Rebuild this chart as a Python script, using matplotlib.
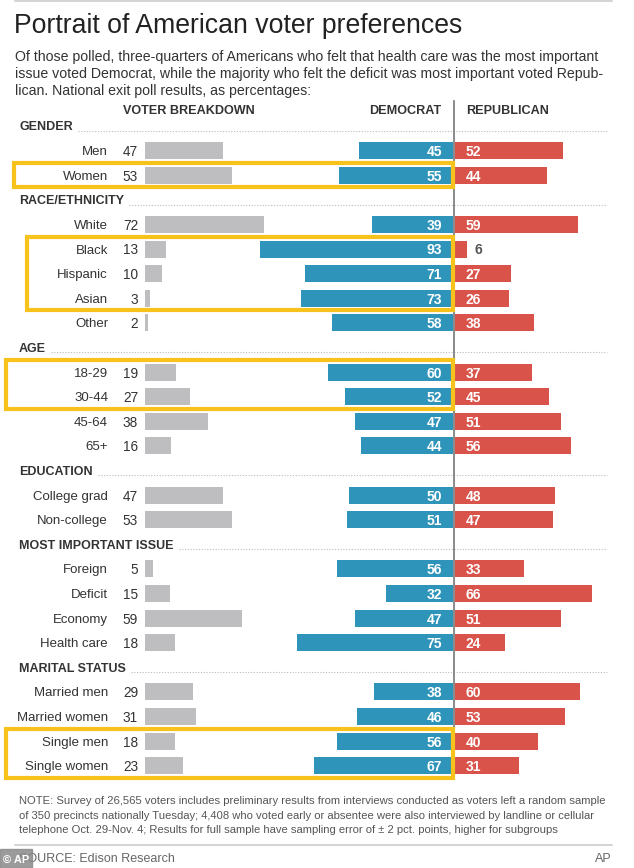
import matplotlib
matplotlib.use('Agg')
import matplotlib.pyplot as plt
from matplotlib import font_manager
from matplotlib.patches import Rectangle

# Dados: sondagem à saída das urnas (percentagens)
secoes = ['GENDER', 'RACE/ETHNICITY', 'AGE', 'EDUCATION', 'MOST IMPORTANT ISSUE', 'MARITAL STATUS']
grupos = [
    ['Men', 'Women'],
    ['White', 'Black', 'Hispanic', 'Asian', 'Other'],
    ['18-29', '30-44', '45-64', '65+'],
    ['College grad', 'Non-college'],
    ['Foreign', 'Deficit', 'Economy', 'Health care'],
    ['Married men', 'Married women', 'Single men', 'Single women'],
]
breakdown = [[47, 53], [72, 13, 10, 3, 2], [19, 27, 38, 16], [47, 53], [5, 15, 59, 18], [29, 31, 18, 23]]
democrat = [[45, 55], [39, 93, 71, 73, 58], [60, 52, 47, 44], [50, 51], [56, 32, 47, 75], [38, 46, 56, 67]]
republican = [[52, 44], [59, 6, 27, 26, 38], [37, 45, 51, 56], [48, 47], [33, 66, 51, 24], [60, 53, 40, 31]]
destaques = [('Women', 'Women', 14), ('Black', 'Asian', 27), ('18-29', '30-44', 6), ('Single men', 'Single women', 6)]

titulo = 'Portrait of American voter preferences'
subtitulo = ['Of those polled, three-quarters of Americans who felt that health care was the most important',
             'issue voted Democrat, while the majority who felt the deficit was most important voted Repub-',
             'lican. National exit poll results, as percentages:']
nota = ['NOTE: Survey of 26,565 voters includes preliminary results from interviews conducted as voters left a random sample',
        'of 350 precincts nationally Tuesday; 4,408 who voted early or absentee were also interviewed by landline or cellular',
        'telephone Oct. 29-Nov. 4; Results for full sample have sampling error of \u00b1 2 pct. points, higher for subgroups']

# Fonte: preferir uma versão estreita, se existir
nomes = {f.name for f in font_manager.fontManager.ttflist}
fonte = 'Liberation Sans Narrow' if 'Liberation Sans Narrow' in nomes else 'Liberation Sans'
plt.rcParams['font.family'] = [fonte, 'DejaVu Sans']

AZUL = '#2F94BA'
VERMELHO = '#D9534A'
CINZA = '#BEBEC1'
AMARELO = '#F7C21B'
TEXTO = '#333333'

fig = plt.figure(figsize=(6.34, 8.68), dpi=100)
ax = fig.add_axes([0, 0, 1, 1])
ax.set_xlim(0, 634)
ax.set_ylim(868, 0)
ax.axis('off')
rend = fig.canvas.get_renderer()


def ajustar(t, largura):
    # encolhe o texto até ocupar a largura pedida (em px)
    w = t.get_window_extent(renderer=rend).width
    t.set_fontsize(t.get_fontsize() * largura / w)
    return t.get_fontsize()


# escalas (px por ponto percentual)
x_cinza, esc_cinza = 145, 1.65
x_centro, esc_partido = 454, 2.08
altura = 17
VA = 'center_baseline'

ax.plot([15, 612], [1, 1], color='#cccccc', lw=1.2)
t = ax.text(14, 26, titulo, fontsize=27, color='#222222', va='center')
ajustar(t, 449)
for i, linha in enumerate(subtitulo):
    t = ax.text(15, 56 + i * 16.5, linha, fontsize=11, color=TEXTO, va=VA)
    if i == 0:
        fs_sub = ajustar(t, 579)
    else:
        t.set_fontsize(fs_sub)

ax.text(123, 110, 'VOTER BREAKDOWN', fontsize=9.1, fontweight='bold', color=TEXTO, va=VA)
ax.text(441, 110, 'DEMOCRAT', fontsize=9.1, fontweight='bold', color=TEXTO, va=VA, ha='right')
ax.text(466, 110, 'REPUBLICAN', fontsize=9.1, fontweight='bold', color=TEXTO, va=VA)

y = 126
passo = 24.6
pos_linha = {}
cabecalhos = []
for sec, nomes_g, bd, dem, rep in zip(secoes, grupos, breakdown, democrat, republican):
    t = ax.text(19, y, sec, fontsize=9, fontweight='bold', color=TEXTO, va=VA)
    cabecalhos.append((t, y))
    y += passo
    for nome, b, d, r in zip(nomes_g, bd, dem, rep):
        pos_linha[nome] = y
        ax.text(108, y, nome, fontsize=9.5, color=TEXTO, va=VA, ha='right')
        ax.text(138, y, str(b), fontsize=9.8, color=TEXTO, va=VA, ha='right')
        ax.barh(y, b * esc_cinza, left=x_cinza, height=altura, color=CINZA)
        ax.barh(y, -d * esc_partido, left=x_centro - 1, height=altura, color=AZUL)
        ax.barh(y, r * esc_partido, left=x_centro + 1, height=altura, color=VERMELHO)
        ax.text(x_centro - 12, y, str(d), fontsize=10, fontweight='bold', color='white', va=VA, ha='right')
        if r < 10:
            ax.text(x_centro + r * esc_partido + 8, y, str(r), fontsize=10, fontweight='bold',
                    color='#555555', va=VA)
        else:
            ax.text(x_centro + 12, y, str(r), fontsize=10, fontweight='bold', color='white', va=VA)
        y += passo

ultimo = y - passo
ax.plot([x_centro, x_centro], [101, ultimo + 12], color='#777777', lw=1.2, zorder=5)

# linhas pontilhadas depois dos cabeçalhos
inv = ax.transData.inverted()
for t, yc in cabecalhos:
    bb = t.get_window_extent(renderer=rend)
    x_fim = inv.transform((bb.x1, 0))[0]
    ax.plot([x_fim + 5, 607], [yc + 5, yc + 5], color='#bbbbbb', lw=0.8, linestyle=(0, (1, 1.5)), zorder=1)

# caixas amarelas
for ini, fim, x_esq in destaques:
    y0 = pos_linha[ini] - 12
    y1 = pos_linha[fim] + 12
    ax.add_patch(Rectangle((x_esq, y0), x_centro - x_esq - 1, y1 - y0, fill=False,
                           edgecolor=AMARELO, lw=3, zorder=6))

for i, linha in enumerate(nota):
    t = ax.text(19, 800 + i * 14.6, linha, fontsize=8.3, color='#555555', va=VA)
    if i == 0:
        fs_nota = ajustar(t, 586)
    else:
        t.set_fontsize(fs_nota)
ax.plot([15, 612], [845, 845], color='#cccccc', lw=1.2)
ax.text(19, 858, 'SOURCE: Edison Research', fontsize=9, color='#666666', va=VA)
ax.text(612, 858, 'AP', fontsize=9, color='#666666', va=VA, ha='right')
ax.add_patch(Rectangle((0, 849), 32, 19, color='#8a8a8a', alpha=0.85, zorder=7))
ax.text(16, 858.5, '\u00a9 AP', fontsize=8, color='white', fontweight='bold', va=VA, ha='center', zorder=8)

fig.savefig('out.png', dpi=100, facecolor='white')
